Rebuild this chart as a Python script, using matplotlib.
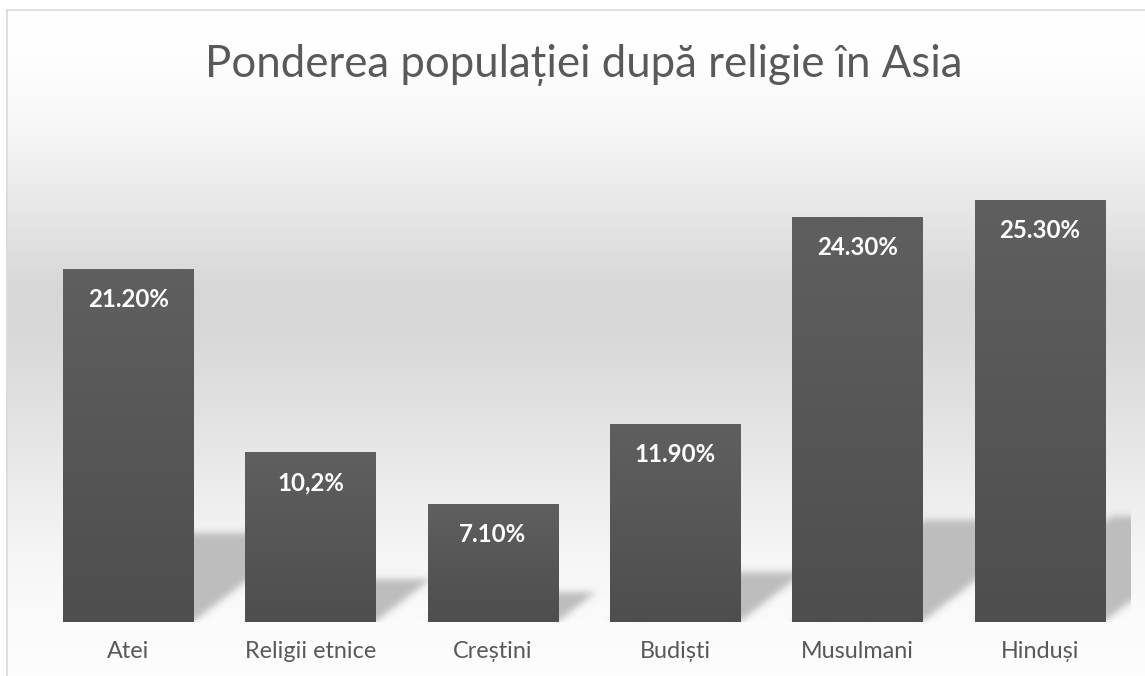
import numpy as np
import matplotlib
matplotlib.use("Agg")
import matplotlib.pyplot as plt

# ---- data ----
categories = ["Atei", "Religii etnice", "Creștini", "Budiști", "Musulmani", "Hinduși"]
values = [21.2, 10.2, 7.1, 11.9, 24.3, 25.3]
value_labels = ["21.20%", "10,2%", "7.10%", "11.90%", "24.30%", "25.30%"]
title = "Ponderea populației după religie în Asia"

FONT = ["Lato", "DejaVu Sans"]
W, H = 1145, 676
fig = plt.figure(figsize=(W / 100, H / 100), dpi=100)

# ---- background (chart area) ----
bg = fig.add_axes([0, 0, 1, 1], zorder=0)
bg.set_xlim(0, W)
bg.set_ylim(H, 0)
bg.axis("off")
stops_y = np.array([10, 60, 120, 200, 290, 340, 420, 500, 560, 620, 676])
stops_v = np.array([255, 254, 248, 233, 215, 217, 227, 238, 246, 251, 253]) / 255.0
yy = np.arange(10, H + 1)
col = np.interp(yy, stops_y, stops_v)
grad = np.repeat(col[:, None], 2, axis=1)
bg.imshow(np.dstack([grad, grad, grad]), extent=(7, W, H, 10), aspect="auto",
          interpolation="bilinear")
bg.plot([7, W], [10, 10], color="#d9d9d9", lw=1.2)
bg.plot([7, 7], [10, H], color="#d9d9d9", lw=1.2)

# ---- main axes ----
left, right, bottom_px, top_px = 37, 1131, 622, 122
ax = fig.add_axes([left / W, 1 - bottom_px / H, (right - left) / W, (bottom_px - top_px) / H],
                  zorder=1)
ax.patch.set_alpha(0)
ymax = 30
ax.set_xlim(-0.5, len(categories) - 0.5)
ax.set_ylim(0, ymax)
for s in ax.spines.values():
    s.set_visible(False)
ax.set_yticks([])
x = np.arange(len(categories))
bw = 0.713

# shadows (perspective, sheared, blurred)
nx, ny = right - left, bottom_px - top_px
gx = np.linspace(-0.5, len(categories) - 0.5, nx)
gy = np.linspace(0, ymax, ny)
GX, GY = np.meshgrid(gx, gy)
px_per_x = nx / len(categories)
px_per_y = ny / ymax
shear = 1.3 * px_per_y / px_per_x
mask = np.zeros_like(GX)
for xi, v in zip(x, values):
    hs = 0.25 * v
    s = shear * GY
    m = (GY <= hs) & (GX >= xi - bw / 2 + s) & (GX <= xi + bw / 2 + s)
    mask = np.maximum(mask, m.astype(float))
sig = 3.5
k = np.arange(-12, 13)
ker = np.exp(-k ** 2 / (2 * sig ** 2))
ker /= ker.sum()
pad = np.pad(mask, 12, mode="edge")
pad[:12, :] = 0  # no shadow below baseline
b = np.apply_along_axis(lambda r: np.convolve(r, ker, mode="same"), 1, pad)
b = np.apply_along_axis(lambda c: np.convolve(c, ker, mode="same"), 0, b)
mask = b[12:-12, 12:-12]
rgba = np.zeros(mask.shape + (4,))
rgba[..., :3] = 0.745
rgba[..., 3] = mask
ax.imshow(rgba, extent=(-0.5, len(categories) - 0.5, 0, ymax), origin="lower",
          aspect="auto", zorder=1, interpolation="bilinear")

bars = ax.bar(x, values, width=bw, color="#565656", zorder=2)
for rect in bars:
    g = np.linspace(0x4e, 0x5f, 64)[:, None] / 255.0
    img = np.dstack([g, g, g])
    x0, y0 = rect.get_x(), rect.get_y()
    im = ax.imshow(img, extent=(x0, x0 + rect.get_width(), y0, y0 + rect.get_height()),
                   origin="lower", aspect="auto", zorder=3, interpolation="bilinear")
    im.set_clip_path(rect)
ax.set_xlim(-0.5, len(categories) - 0.5)
ax.set_ylim(0, ymax)

for xi, v, lab in zip(x, values, value_labels):
    ax.annotate(lab, (xi, v), xytext=(0, -27.4), textcoords="offset points",
                ha="center", va="baseline", color="white", fontsize=17.3,
                fontweight="bold", family=FONT, zorder=5)

ax.set_xticks(x)
ax.set_xticklabels(categories, fontsize=16.8, color="#595959", family=FONT)
ax.tick_params(axis="x", length=0, pad=14)

fig.text(584 / W, 1 - 77 / H, title, ha="center", va="baseline", fontsize=31.5,
         color="#595959", family=FONT, fontweight="normal")

fig.savefig("out.png", dpi=100)
